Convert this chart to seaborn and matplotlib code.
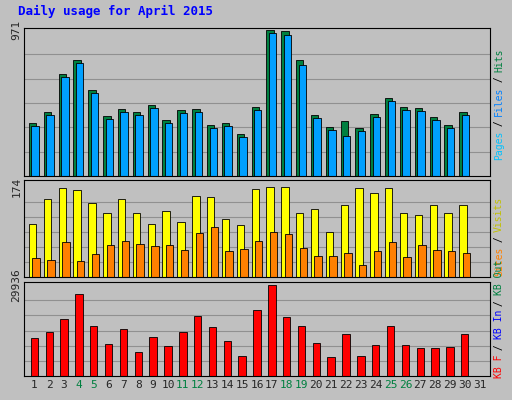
import numpy as np
import matplotlib
matplotlib.use("Agg")
import matplotlib.pyplot as plt
import seaborn as sns

days = list(range(1, 32))
hits = [350, 429, 681, 774, 573, 399, 449, 429, 472, 372, 442, 449, 339, 352, 279, 462, 971, 964, 771, 406, 326, 366, 319, 412, 519, 462, 456, 392, 339, 425, 0]
files = [330, 409, 661, 754, 553, 379, 429, 409, 452, 352, 422, 429, 319, 332, 259, 442, 950, 940, 736, 386, 306, 266, 299, 392, 499, 442, 436, 372, 319, 405, 0]
visits = [103, 151, 172, 168, 143, 124, 151, 124, 103, 128, 107, 157, 155, 112, 101, 171, 174, 174, 124, 132, 87, 139, 172, 163, 172, 124, 120, 139, 124, 139, 0]
sites = [37, 33, 68, 31, 44, 62, 70, 64, 60, 62, 52, 85, 97, 50, 54, 70, 87, 83, 56, 41, 41, 46, 23, 50, 68, 39, 62, 52, 50, 46, 0]
kbytes = [12500, 14500, 18800, 27000, 16400, 10500, 15400, 7900, 12800, 9800, 14500, 19800, 16100, 11500, 6500, 21800, 29936, 19500, 16400, 10800, 6200, 13800, 6500, 10200, 16400, 10200, 9200, 9200, 9500, 13800, 0]

sns.set_style("white")
plt.rcParams['font.family'] = ['DejaVu Sans Mono', 'DejaVu Sans']
fig = plt.figure(figsize=(5.12, 4.0), dpi=100)
fig.patch.set_facecolor('#c0c0c0')

x = np.array(days, dtype=float)
panels = [
    (0.56, 0.37, [(hits, '#008040', -0.12), (files, '#00a0ff', 0.05)], 971, 1.015),
    (0.3075, 0.2425, [(visits, '#ffff00', -0.12), (sites, '#ff8000', 0.12)], 174, 1.08),
    (0.06, 0.235, [(kbytes, '#ff0000', 0.0)], 29936, 1.035),
]
axes = []
for bot, h, series, top, f in panels:
    ax = fig.add_axes([24/512, bot, 466/512, h])
    ax.set_facecolor('#c0c0c0')
    for vals, col, off in series:
        sns.barplot(x=x + off, y=vals, native_scale=True, color=col, edgecolor='black',
                    linewidth=0.6, width=0.5, ax=ax, saturation=1)
    ax.set_xlim(0.3, 31.7)
    ax.set_ylim(0, top * f)
    for g in np.linspace(0, top, 7)[1:-1]:
        ax.axhline(g, color='#909090', lw=0.8, zorder=0)
    ax.set_yticks([top])
    ax.set_yticklabels([str(top)], rotation=90, va='center', fontsize=8)
    ax.tick_params(axis='y', length=0, pad=2)
    ax.set_xticks([])
    ax.set_xlabel(''); ax.set_ylabel('')
    for s in ax.spines.values():
        s.set_color('black'); s.set_linewidth(0.8)
    axes.append(ax)

ax = axes[2]
ax.set_xticks(days)
ax.set_xticklabels([str(d) for d in days], fontsize=8)
ax.tick_params(axis='x', length=0, pad=3)
for lbl, d in zip(ax.get_xticklabels(), days):
    if d in (4, 5, 11, 12, 18, 19, 25, 26):
        lbl.set_color('#008040')

fig.text(0.035, 0.962, 'Daily usage for April 2015', color='#0000ff', fontsize=9, fontweight='bold')

def side(y0, parts):
    y = y0
    for txt, col in parts:
        fig.text(0.975, y, txt, color=col, rotation=90, fontsize=7, ha='center', va='bottom')
        y += len(txt) * 0.0138

side(0.6, [('Pages', '#00c0ff'), (' / ', '#000000'), ('Files', '#0080ff'), (' / ', '#000000'), ('Hits', '#008040')])
side(0.31, [('Sites', '#ff8000'), (' / ', '#000000'), ('Visits', '#c0c000')])
side(0.055, [('KB F', '#ff0000'), (' / ', '#000000'), ('KB In', '#0000ff'), (' / ', '#000000'), ('KB Out', '#008040')])

fig.savefig('out.png', dpi=100, facecolor=fig.get_facecolor())
